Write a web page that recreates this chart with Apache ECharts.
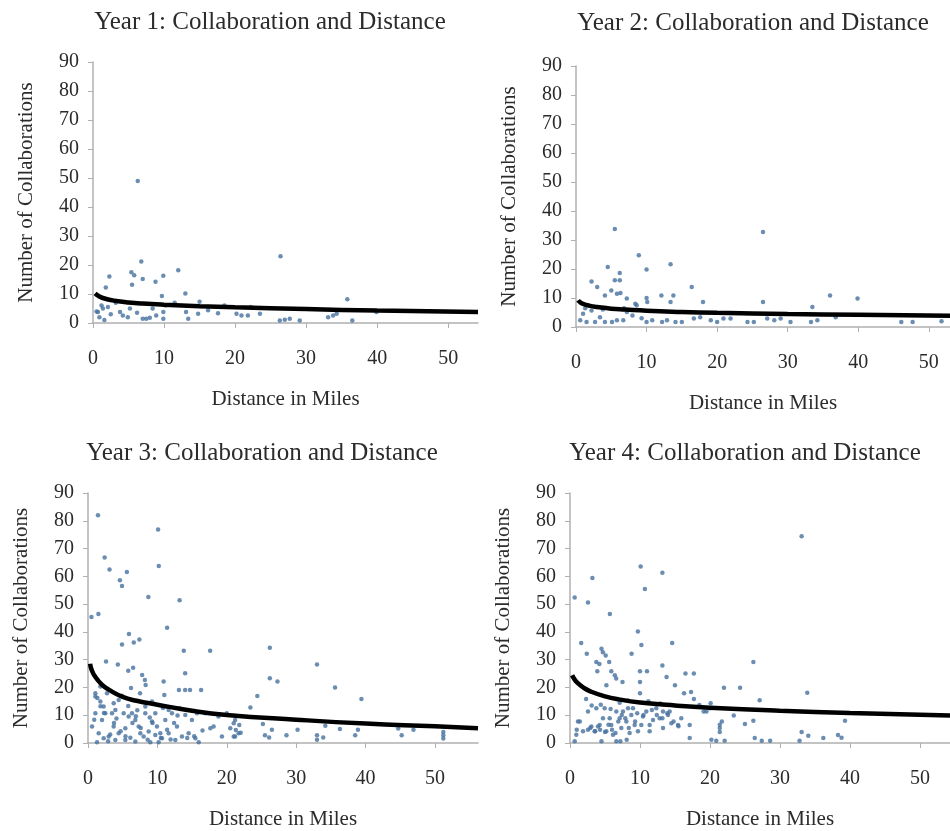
<!DOCTYPE html>
<html><head><meta charset="utf-8">
<script src="https://cdn.jsdelivr.net/npm/echarts@6/dist/echarts.min.js"></script>
<style>html,body{margin:0;padding:0;background:#fff}#c{width:950px;height:831px}</style>
</head><body><div id="c"></div>
<script>
const panelTitles = ['Year 1: Collaboration and Distance','Year 2: Collaboration and Distance','Year 3: Collaboration and Distance','Year 4: Collaboration and Distance'];
const xAxisTitle = 'Distance in Miles';
const yAxisTitle = 'Number of Collaborations';
const xTickValues = [0,10,20,30,40,50];
const yTickValues = [0,10,20,30,40,50,60,70,80,90];
const xAxisMax = [54.2, 53, 56.2, 54.3];

const year1Points = [[6.3,49],[1.8,12.2],[2.3,16],[5.4,17.5],[5.8,16.5],[5.5,13.2],[6.8,21.2],[7.0,15.2],[8.8,14.2],[9.9,16.3],[12,18.2],[13,10.2],[9.7,9.3],[26.4,23],[35.8,8.2],[15,7.3],
[0.5,4],[0.7,3.8],[0.9,2],[1.2,6],[1.4,5],[1.6,1],[2.1,5.5],[2.5,3],[3.2,7],[3.8,3.8],[4.2,2.6],[4.9,2],[5.2,5],[6.2,3.5],[7,1.5],[7.5,1.5],[8,1.8],[8.4,5],[8.9,2.6],[9.9,3.8],[9.9,1.5],[10.2,6],[11.5,7],[13.1,3.8],[13.4,1.5],[14.8,3.2],[16.2,4.4],[17.6,3.4],[18.5,6],[20.2,3.2],[20.9,2.6],[21.8,2.6],[22.2,5.5],[23.5,3.2],[26.3,0.9],[27,1.1],[27.7,1.5],[29.1,0.9],[33.1,2],[33.8,2.6],[34.3,3.2],[36.5,0.9],[39.9,3.8]];

const year2Points = [[5.5,33.8],[26.5,32.8],[8.9,24.7],[10,19.8],[13.4,21.6],[4.5,20.7],[5.5,16.1],[6.2,16.1],[6.2,18.6],[2.2,15.7],[3,13.8],[16.4,13.8],[4.1,10.9],[5,12.6],[5.8,11.5],[6.3,11.7],[7.2,9.8],[8.4,8],[8.6,7.5],[10,10],[10.1,8.6],[12.1,10.9],[13.8,10.9],[13.4,8.6],[18,8.6],[26.5,8.6],[36,10.9],[39.9,9.8],[33.5,6.9],[36.8,3.4],
[0.6,2.3],[1,4.6],[1.5,1.7],[2.2,5.7],[2.7,1.7],[3.4,3.4],[4.1,1.7],[5.1,1.7],[5.8,2.3],[6.7,2.3],[7.2,5.2],[10,1.7],[10.8,2.3],[12.2,1.7],[12.9,2.3],[14.1,1.7],[15,1.7],[16.7,2.9],[17.6,3.4],[19.1,2.3],[20,1.7],[20.9,2.9],[21.9,2.9],[24.3,1.7],[25.2,1.7],[27.1,2.9],[28.1,2.3],[29,2.9],[30.4,1.7],[33.3,1.7],[34.2,2.3],[46.1,1.7],[47.7,1.7],[51.8,2],
[1.3,6.5],[3.8,6],[6.8,6.5],[8,4],[9.3,3]];

const year3Points = [[1.44,82],[10.1,76.9],[2.4,66.8],[3.1,62.5],[5.6,61.6],[4.6,58.6],[4.9,56.5],[10.2,63.7],[8.7,52.6],[13.2,51.4],[0.5,45.4],[1.5,46.4],[11.4,41.5],[5.9,39.2],[6.6,36.2],[7.4,37.3],[4.9,35.5],[13.8,33.2],[17.6,33.2],[2.6,29.3],[4.3,28.3],[5.8,26],[6.5,27.1],[7.8,24.5],[8.2,22.7],[8.3,20.9],[10.9,22.1],[14,25.1],[13.1,19.1],[14,19.1],[14.7,19.1],[16.3,19.1],[6.2,19.8],[7.5,17.9],[11,17.3],[26.2,34.3],[33,28.3],[26.2,23.3],[27.3,22.1],[35.6,20],[39.4,15.8],[24.4,16.9],[23.4,12.8],
[21,7.1],[21.3,4.7],[21.8,6.5],[21.2,2.3],[22,3.7],[25.2,6.8],[25.5,2.8],[26.1,2],[26.5,4.8],[28.6,2.8],[30.2,4.8],[33,2.8],[33,1.2],[33.9,2],[34.2,6.2],[36.3,5],[38.5,2.8],[38.9,4.8],[44.7,5.2],[45.2,2.8],[46.9,4.8],[51.2,2.8],[51.2,1.6],[51.2,4],
[1.06,16.7],[1.78,14.9],[2.26,13.1],[1.06,10.7],[2.5,10.7],[2.02,8.3],[0.58,5.9],[1.54,3.5],[2.26,1.7],[3.7,5.9],[4.42,3.5],[5.38,5.3],[6.34,10.7],[6.82,8.3],[7.3,5.9],[8.02,2.3],[8.74,4.1],[9.22,7.7],[9.94,5.9],[10.42,3.5],[10.66,1.7],[9.7,10.7],[12.1,10.7],[12.82,5.9],[13.54,2.3],[14.5,3.5],[15.47,1.7],[14.98,8.3],[16.9,10.7],[18.1,5.9],[19.3,2.3],[20.5,5.3],[21.2,8.3],[21.7,3.5],[4.42,15.5],[5.14,10.7],[5.86,9.5],[3.46,10.7],[3.94,11.9],[8.26,10.7],[11.14,8.3],[11.62,3.5],[12.58,1.1],[5.38,1.1],[6.82,0.5],[7.54,3.5],[8.98,0.3],[1.3,0.3],[2.98,2.3],[3.94,1.1],[10.18,0.3],[15.95,0.3],[17.63,5.3],[8.26,13.1],[9.22,14.9],[1.78,20.3],[1.06,17.9],[2.74,17.9],[3.7,14.3],[4.9,17],[11.62,11.9],[14.02,10.1],[15.71,10.7],[18.8,9.5],[20,10.7],[21,2.3],
[1.35,16.2],[1.8,13.2],[2.3,10.8],[3.75,7.2],[4.7,4.2],[5.4,2.4],[6.4,7.2],[6.9,9.6],[7.6,5.4],[8.6,1.2],[9.3,7.2],[10.5,1.8],[11.4,4.8],[12.4,7.2],[14.3,1.8],[15.3,2.4],[16.5,4.5],[13.2,12.5],[3.2,3.1],[4.1,8.8],[5.8,13.3],[7.1,11.8],[8.9,9.2],[10.8,12.6],[12.9,9.9],[0.9,8.4],[2.9,0.6],[6.1,1.9],[9.7,2.9],[11.9,1.3]];

const year4Points = [[33.1,74.4],[10.1,63.5],[13.2,61.3],[3.2,59.4],[10.7,55.4],[0.67,52.4],[2.57,50.6],[5.7,46.4],[9.7,40.1],[10.2,35.3],[14.6,36],[1.6,36],[2.4,32.1],[8.8,32.1],[4.5,33.9],[4.7,32.7],[5.1,31.5],[5.6,29.2],[3.76,29.2],[4.2,28.4],[3.9,25.8],[5.9,25.8],[6.4,24.4],[6.6,23.2],[5.2,20.8],[7.5,22],[10,25.8],[10,22],[10,17.9],[11,25.8],[13.2,27.9],[13.8,23.8],[15,20.8],[16.5,25],[17.7,25],[17.3,18.4],[16.3,17.9],[17.7,15.8],[2.3,15.8],[26.2,29.2],[22,19.9],[24.3,19.9],[33.9,18.1],[27.1,15.4],[23.4,9.9],[25,6.8],[26.2,8],[39.3,8],[21.4,6.6],[21.4,5.4],[21.7,7.7],[21.4,4],[20.2,1.2],[20.9,0.8],[22.1,0.8],[26.4,1.8],[27.4,0.8],[28.6,0.8],[32.8,0.8],[33.1,4],[34.05,2.6],[36.2,1.8],[38.3,2.9],[38.8,1.9],[20.1,14.3],[19.1,11.3],
[1.14,7.7],[0.9,3],[0.67,0.6],[2.57,11.3],[2.57,4.8],[3.52,4.2],[4,5.9],[3.76,12.5],[4.71,8.9],[4.95,12.5],[5.19,4.2],[5.9,6.5],[6.14,3],[6.62,11.3],[7.1,8.9],[7.33,5.4],[7.57,11.3],[8.05,7.7],[8.52,3.6],[8.76,10.1],[9.24,6.5],[9.71,4.2],[10.19,6.5],[10.43,9.5],[10.9,11.3],[11.38,6.5],[11.86,8.3],[12.33,12.5],[12.81,8.9],[13.29,5.4],[14,10.1],[14.48,7.1],[15.43,6.5],[15.9,8.9],[17.1,6.5],[17.1,1.8],[18.5,13.7],[19.5,11.3],[20,12.5],[6.62,0.6],[5.67,8.9],[4.24,6.5],[3.05,5.9],[1.86,4.2],[8.29,12.5],[9,12.5],[11.38,4.2],[13.29,11.3],[14.24,11.3],
[0.96,4.8],[1.4,7.7],[2.9,5.4],[3.6,4.2],[4.3,4.8],[5,4],[5.5,6.6],[6,4.8],[6.5,3.6],[6.9,7.7],[7.4,10.1],[7.9,8.9],[8.4,5.4],[9.3,7.7],[9.6,10.7],[10.5,10.1],[11.7,11.9],[12.4,10.1],[13.2,8.9],[13.9,10.7],[14.8,7.7],[15.5,6],[4.5,0.6],[7.2,0.6],[8.1,1.2],[3.1,13.5],[4.4,13.8],[5.8,12.2],[7.1,14.5],[8.3,15.3],[11.2,15],[12.9,14.2]];

const trend1X = [0.3,0.5,1,2,3,5,7,10,15,20,30,40,54.2];
const trend1Y = [10.2,9.8,9.0,8.2,7.7,7.1,6.7,6.3,5.8,5.4,4.8,4.3,3.8];
const trend2X = [0.3,0.5,1,2,3,5,7,10,15,20,30,40,53];
const trend2Y = [9.2,8.7,8.0,7.3,6.9,6.3,6.0,5.6,5.2,4.9,4.5,4.2,3.9];
const trend3X = [0.3,0.5,1,2,3,5,7,10,15,20,30,40,50,56.2];
const trend3Y = [28.5,26.5,24,21,19.2,16.6,15.2,13.8,11.6,10.1,8.4,7,6,5.3];
const trend4X = [0.3,0.5,1,2,3,5,7,10,15,20,30,40,54.3];
const trend4Y = [24.4,23.5,21.8,19.8,18.5,16.8,15.7,14.6,13.5,12.7,11.6,10.8,9.9];

const pointsByYear = [year1Points, year2Points, year3Points, year4Points];
const trendByYear = [[trend1X,trend1Y],[trend2X,trend2Y],[trend3X,trend3Y],[trend4X,trend4Y]];

const FONT = '"Liberation Serif", "Times New Roman", serif';
const TXT = '#2b2b2b';
const AX = '#b0b0b0';
const grids = [
  {left:93, top:62, width:385, height:261},
  {left:576, top:66, width:374, height:261},
  {left:88, top:493, width:390, height:250},
  {left:570, top:493, width:380, height:252}
];
const titlePos = [[270,10],[753,11],[262,441],[745,441]];

const chart = echarts.init(document.getElementById('c'), null, {renderer:'canvas'});
const option = {
  backgroundColor:'#fff',
  animation:false,
  title: panelTitles.map((t,i)=>({text:t, left:titlePos[i][0], top:titlePos[i][1], textAlign:'center', padding:0,
    textStyle:{fontFamily:FONT, fontSize:25, fontWeight:'normal', color:TXT}})),
  grid: grids,
  xAxis: grids.map((g,i)=>({gridIndex:i, type:'value', min:0, max:xAxisMax[i], interval:10,
    name:xAxisTitle, nameLocation:'middle', nameGap:66,
    nameTextStyle:{fontFamily:FONT, fontSize:21, color:TXT},
    axisLine:{show:true, onZero:false, lineStyle:{color:AX, width:1.5}},
    axisTick:{show:true, length:5, customValues:xTickValues, lineStyle:{color:AX}},
    axisLabel:{customValues:xTickValues, fontFamily:FONT, fontSize:20, color:TXT, margin:26},
    splitLine:{show:false}})),
  yAxis: grids.map((g,i)=>({gridIndex:i, type:'value', min:0, max:90, interval:10,
    name:yAxisTitle, nameLocation:'middle', nameGap:56,
    nameTextStyle:{fontFamily:FONT, fontSize:21, color:TXT},
    axisLine:{show:true, lineStyle:{color:AX, width:1.5}},
    axisTick:{show:true, length:5, lineStyle:{color:AX}},
    axisLabel:{fontFamily:FONT, fontSize:20, color:TXT, margin:14},
    splitLine:{show:false}})),
  series: []
};
pointsByYear.forEach((pts,i)=>{
  option.series.push({type:'scatter', xAxisIndex:i, yAxisIndex:i, data:pts, symbol:'circle', symbolSize:4.5,
    itemStyle:{color:'#46709f'}, z:2});
  const [tx,ty] = trendByYear[i];
  option.series.push({type:'line', xAxisIndex:i, yAxisIndex:i, data:tx.map((x,k)=>[x,ty[k]]), smooth:0.5,
    showSymbol:false, lineStyle:{color:'#000', width:4.5}, z:3});
});
chart.setOption(option);
</script></body></html>
